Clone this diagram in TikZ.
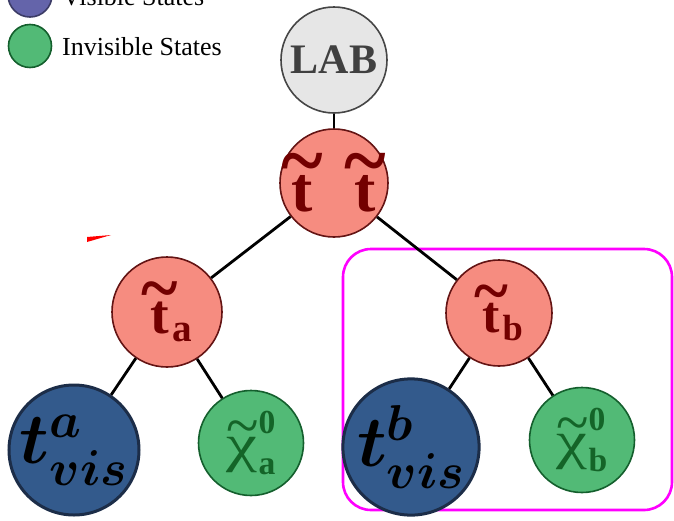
\RequirePackage{fix-cm}
\documentclass[tikz,border=0pt]{standalone}
\usepackage{amsmath}
\usepackage{fontspec}
\setmainfont{Liberation Serif}
\definecolor{labfill}{RGB}{230,230,230}
\definecolor{labdraw}{RGB}{70,70,70}
\definecolor{sfill}{RGB}{246,140,128}
\definecolor{sdraw}{RGB}{100,20,20}
\definecolor{stext}{RGB}{115,0,0}
\definecolor{invisfill}{RGB}{82,186,118}
\definecolor{invisdraw}{RGB}{20,95,45}
\definecolor{invistext}{RGB}{20,100,40}
\definecolor{visfill}{RGB}{51,90,140}
\definecolor{visdraw}{RGB}{28,45,72}
\definecolor{legendvis}{RGB}{100,100,170}
\definecolor{boxcolor}{RGB}{255,0,255}

% wide tilde set over a symbol
\newcommand{\tilover}[1]{\vbox{\offinterlineskip\halign{\hfil##\hfil\cr
  \scalebox{1.25}[1.3]{\textasciitilde}\cr\noalign{\kern-0.2em}$#1$\cr}}}
\newcommand{\neutchi}{\text{\scalebox{1.45}[1.1]{χ}}}

\tikzset{
  state/.style={circle, inner sep=0pt, line width=1.6pt},
  labstate/.style={state, fill=labfill, draw=labdraw, minimum size=106pt,
    text=black!75, font=\fontsize{42}{42}\selectfont\bfseries},
  sstate/.style={state, inner sep=-20pt, fill=sfill, draw=sdraw, text=stext},
  invisstate/.style={state, inner sep=-10pt, fill=invisfill, draw=invisdraw, minimum size=105pt,
    text=invistext, font=\fontsize{48}{48}\selectfont},
  visstate/.style={state, fill=visfill, draw=visdraw, line width=3pt,
    minimum size=130pt, text=black, font=\fontsize{72}{72}\selectfont\boldmath},
  edge/.style={line width=2.8pt, black},
  legendtext/.style={font=\fontsize{26}{26}\selectfont, text=black}
}

\begin{document}
\begin{tikzpicture}[x=1pt,y=-1pt]
\useasboundingbox (0,0) rectangle (674,520);
\clip (0,0) rectangle (674,520);

% Legend
\node[state, fill=legendvis, draw=legendvis!60!black, minimum size=44pt] (leg-vis) at (30,-5) {};
\node[legendtext, anchor=base west, inner sep=0pt] (leg-vis-txt) at (62,5) {Visible States};
\node[state, fill=invisfill, draw=invisdraw, minimum size=43pt] (leg-invis) at (30,46) {};
\node[legendtext, anchor=base west, inner sep=0pt] (leg-invis-txt) at (62,55) {Invisible States};

% Box round the b branch
\draw[boxcolor, line width=2.6pt, rounded corners=28pt] (343,249) rectangle (672,510);

% Stray red mark
\fill[red] (87,237) -- (87,242) -- (111,235) -- cycle;

% Nodes
\node[labstate] (lab) at (334,60) {LAB};
\node[sstate, minimum size=108pt, font=\fontsize{64}{64}\selectfont\bfseries] (t-pair) at (334,183)
  {$\tilover{\mathbf{t}}\mkern6mu\tilover{\mathbf{t}}$};
\node[sstate, minimum size=110pt, font=\fontsize{56}{56}\selectfont\bfseries] (t-a) at (167,312)
  {$\tilover{\mathbf{t}}\mkern-2mu{}_{\mathbf{a}}$};
\node[sstate, minimum size=106pt, font=\fontsize{52}{52}\selectfont\bfseries] (t-b) at (499,313)
  {$\tilover{\mathbf{t}}\mkern-2mu{}_{\mathbf{b}}$};
\node[visstate] (vis-a) at (74,450) {$t^{a}_{vis}$};
\node[invisstate] (chi-a) at (251,443) {$\tilover{\neutchi}^{\mathbf{0}}_{\mathbf{a}}$};
\node[visstate] (vis-b) at (411,447) {$t^{b}_{vis}$};
\node[invisstate] (chi-b) at (582,440) {$\tilover{\neutchi}^{\mathbf{0}}_{\mathbf{b}}$};

% Edges
\draw[edge] (lab) -- (t-pair);
\draw[edge] (t-pair) -- (t-a);
\draw[edge] (t-pair) -- (t-b);
\draw[edge] (t-a) -- (vis-a);
\draw[edge] (t-a) -- (chi-a);
\draw[edge] (t-b) -- (vis-b);
\draw[edge] (t-b) -- (chi-b);
\end{tikzpicture}
\end{document}
